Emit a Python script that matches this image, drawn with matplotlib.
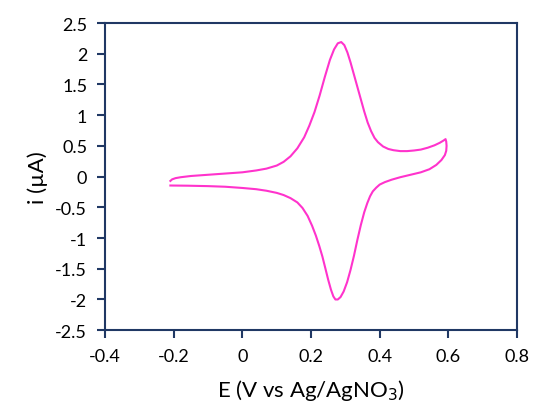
import numpy as np
import matplotlib
matplotlib.use("Agg")
import matplotlib.pyplot as plt
from matplotlib.ticker import FuncFormatter

#%% data
# forward (anodic) scan
E_fwd = [-0.21, -0.205, -0.195, -0.18, -0.15, -0.10, -0.05, 0.00, 0.04, 0.07,
         0.10, 0.12, 0.14, 0.16, 0.18, 0.195, 0.21, 0.225, 0.24, 0.255,
         0.267, 0.278, 0.288, 0.297, 0.306, 0.315, 0.325, 0.335, 0.345, 0.355,
         0.365, 0.375, 0.385, 0.395, 0.41, 0.425, 0.44, 0.46, 0.48, 0.50,
         0.52, 0.54, 0.56, 0.575, 0.587, 0.592]
i_fwd = [-0.07, -0.045, -0.025, -0.01, 0.01, 0.03, 0.05, 0.07, 0.10, 0.13,
         0.18, 0.24, 0.33, 0.46, 0.64, 0.83, 1.05, 1.32, 1.62, 1.90,
         2.07, 2.17, 2.19, 2.14, 2.02, 1.86, 1.66, 1.46, 1.26, 1.06,
         0.88, 0.74, 0.63, 0.56, 0.49, 0.45, 0.43, 0.415, 0.415, 0.425,
         0.44, 0.47, 0.51, 0.55, 0.59, 0.61]
# reverse (cathodic) scan
E_rev = [0.594, 0.595, 0.594, 0.59, 0.58, 0.565, 0.545, 0.52, 0.49, 0.46,
         0.435, 0.415, 0.40, 0.39, 0.38, 0.372, 0.364, 0.355, 0.345, 0.335,
         0.325, 0.315, 0.305, 0.295, 0.286, 0.278, 0.271, 0.265, 0.258, 0.25,
         0.242, 0.233, 0.224, 0.214, 0.203, 0.19, 0.175, 0.16, 0.14, 0.12,
         0.10, 0.07, 0.04, 0.00, -0.05, -0.10, -0.16, -0.21]
i_rev = [0.57, 0.50, 0.42, 0.35, 0.27, 0.19, 0.12, 0.07, 0.03, -0.01,
         -0.05, -0.09, -0.13, -0.18, -0.24, -0.32, -0.43, -0.58, -0.79, -1.03,
         -1.29, -1.52, -1.72, -1.87, -1.96, -2.00, -2.00, -1.95, -1.84, -1.68,
         -1.50, -1.30, -1.13, -0.96, -0.80, -0.64, -0.51, -0.42, -0.35, -0.30,
         -0.265, -0.23, -0.205, -0.185, -0.165, -0.155, -0.148, -0.145]

x_ticks = [-0.4, -0.2, 0, 0.2, 0.4, 0.6, 0.8]
y_ticks = [-2.5, -2, -1.5, -1, -0.5, 0, 0.5, 1, 1.5, 2, 2.5]

#%%
plt.rcParams['font.family'] = ['Lato', 'DejaVu Sans']
navy = '#203864'

fig = plt.figure(figsize=(5.34, 4.14), dpi=100)
ax = fig.add_axes([0.197, 0.2, 0.771, 0.742])

E = E_fwd + E_rev
i = i_fwd + i_rev
ax.plot(E, i, color='#FF33CC', lw=1.5, solid_joinstyle='round')

ax.set_xlim(-0.4, 0.8)
ax.set_ylim(-2.5, 2.5)
ax.set_xticks(x_ticks)
ax.set_yticks(y_ticks)
fmt = FuncFormatter(lambda v, p: '%g' % v)
ax.xaxis.set_major_formatter(fmt)
ax.yaxis.set_major_formatter(fmt)

for s in ax.spines.values():
    s.set_color(navy)
    s.set_linewidth(1.5)
ax.tick_params(direction='out', length=6, width=1.5, color=navy,
               labelsize=13, labelcolor='black', pad=7)

ax.set_xlabel(r'E (V vs Ag/AgNO$_3$)', fontsize=16, labelpad=9)
ax.set_ylabel(u'i (\u00b5A)', fontsize=16, labelpad=5)

fig.savefig('out.png', dpi=100)
